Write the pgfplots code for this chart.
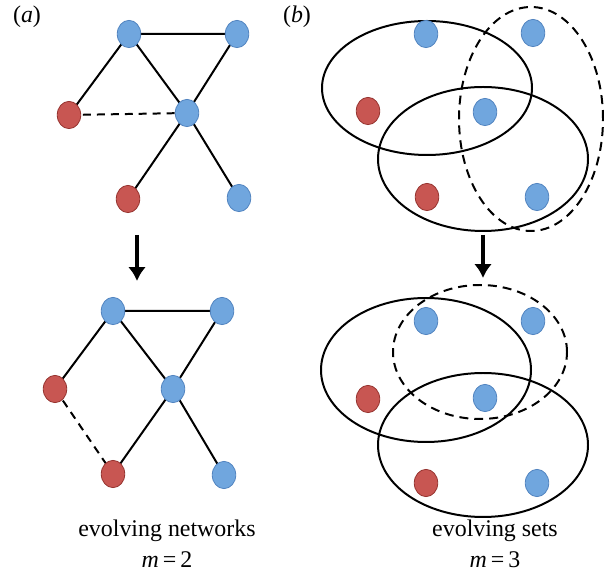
\documentclass[border=0pt]{standalone}
\usepackage{fontspec}
\setmainfont{Liberation Serif}
\usepackage{pgfplots}
\pgfplotsset{compat=1.18}
\usetikzlibrary{arrows.meta}
\definecolor{nodeblue}{RGB}{112,166,222}
\definecolor{edgeblue}{RGB}{82,132,192}
\definecolor{nodered}{RGB}{200,86,82}
\definecolor{edgered}{RGB}{150,52,48}
\tikzset{
  setline/.style={black,line width=2pt},
  dsetline/.style={black,line width=2pt,dash pattern=on 9pt off 6pt},
  lbl/.style={font=\fontsize{24}{28}\selectfont}}
\begin{document}
\begin{tikzpicture}
\begin{axis}[width=604bp,height=571bp,scale only axis,
  xmin=0,xmax=604,ymin=0,ymax=571,hide axis,clip=true,
  edge/.style={black,line width=2pt},
  dedge/.style={black,line width=2pt,dash pattern=on 8pt off 6pt},
  blue node/.style={only marks,mark=*,mark size=11.8,
    mark options={fill=nodeblue,draw=edgeblue,line width=0.8pt,yscale=1.16}},
  red node/.style={only marks,mark=*,mark size=11.8,
    mark options={fill=nodered,draw=edgered,line width=0.8pt,yscale=1.16}},
  arr/.style={black,line width=4pt,-{Latex[length=14pt,width=18pt]}}]
\path (axis cs:0,0) (axis cs:604,571);

% (a) evolving networks, top
\addplot[edge] coordinates {(69,456) (129,537) (237,537) (187,458) (128,372)};
\addplot[edge] coordinates {(129,537) (187,458) (239,373)};
\addplot[dedge] coordinates {(69,456) (187,458)};
\addplot[blue node] coordinates {(129,537) (237,537) (187,458) (239,373)};
\addplot[red node] coordinates {(69,456) (128,372)};

% (a) bottom
\addplot[edge] coordinates {(55,182) (113,260) (222,260) (173,182) (113,97)};
\addplot[edge] coordinates {(113,260) (173,182) (224,96)};
\addplot[dedge] coordinates {(55,182) (113,97)};
\addplot[blue node] coordinates {(113,260) (222,260) (173,182) (224,96)};
\addplot[red node] coordinates {(55,182) (113,97)};

\addplot[arr] coordinates {(137,336) (137,290)};

% (b) evolving sets, top
\draw[setline] (axis cs:427,483) ellipse [x radius=105,y radius=67];
\draw[setline] (axis cs:483,412) ellipse [x radius=105,y radius=72];
\draw[dsetline] (axis cs:531,452) ellipse [x radius=72,y radius=112];
\addplot[blue node] coordinates {(426,537) (533,538) (485,459) (537,374)};
\addplot[red node] coordinates {(368,460) (427,374)};

% (b) bottom
\draw[setline] (axis cs:426,201) ellipse [x radius=105,y radius=72];
\draw[setline] (axis cs:483,126) ellipse [x radius=105,y radius=72];
\draw[dsetline] (axis cs:480,219) ellipse [x radius=87,y radius=67];
\addplot[blue node] coordinates {(426,250) (533,250) (485,173) (537,88)};
\addplot[red node] coordinates {(368,172) (426,88)};

\addplot[arr] coordinates {(483,336) (483,293)};

% labels
\node[lbl] at (axis cs:27,554) {(\textit{a})};
\node[lbl] at (axis cs:297,554) {(\textit{b})};
\node[lbl,anchor=base] at (axis cs:167,34) {evolving networks};
\node[lbl,anchor=base] at (axis cs:167,4) {\textit{m}\,=\,2};
\node[lbl,anchor=base] at (axis cs:495,34) {evolving sets};
\node[lbl,anchor=base] at (axis cs:495,4) {\textit{m}\,=\,3};
\end{axis}
\end{tikzpicture}
\end{document}
